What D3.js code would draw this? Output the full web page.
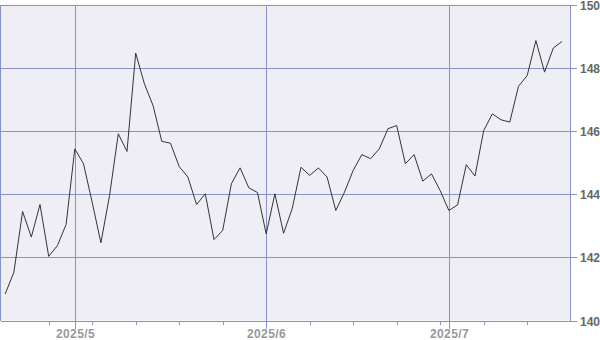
<!DOCTYPE html>
<html>
<head>
<meta charset="utf-8">
<script src="https://cdn.jsdelivr.net/npm/d3@7"></script>
<style>
  body { margin: 0; background: #fff; }
  svg text { font-family: "Liberation Sans", Arial, sans-serif; font-weight: bold; font-size: 12px; }
</style>
</head>
<body>
<div id="chart"></div>
<script>
// weekday closes, 2025-04-21 .. 2025-07-18
const startDate = "2025-04-21";
const endDate = "2025-07-18";
const values = [
  140.84, 141.53, 143.45, 142.64, 143.67, 142.03, 142.37, 143.04, 145.43, 144.96,
  143.74, 142.46, 143.96, 145.91, 145.35, 148.46, 147.49, 146.80, 145.67, 145.61,
  144.87, 144.54, 143.67, 144.01, 142.56, 142.85, 144.33, 144.83, 144.20, 144.05,
  142.74, 144.01, 142.76, 143.55, 144.85, 144.59, 144.83, 144.54, 143.48, 144.06,
  144.75, 145.25, 145.12, 145.43, 146.07, 146.17, 144.96, 145.25, 144.41, 144.64,
  144.11, 143.48, 143.66, 144.93, 144.57, 146.01, 146.54, 146.35, 146.28, 147.41,
  147.75, 148.86, 147.86, 148.62, 148.83
];
const yTicks = [140, 142, 144, 146, 148, 150];
const monthLabels = ["2025/5", "2025/6", "2025/7"];

const W = 600, H = 340;
const plot = {left: 0.5, right: 570.5, top: 4.5, bottom: 320.5};

const dates = d3.utcDays(new Date(startDate), d3.utcDay.offset(new Date(endDate), 1))
    .filter(d => d.getUTCDay() !== 0 && d.getUTCDay() !== 6);

const data = dates.map((d, i) => ({date: d, i: i, v: values[i]}));

const svg = d3.select("#chart")
    .append("svg")
    .attr("width", W)
    .attr("height", H);

const x = d3.scaleLinear()
    .domain([-0.54, 64.98])
    .range([plot.left, plot.right]);

const y = d3.scaleLinear()
    .domain([140, 150])
    .range([plot.bottom, plot.top]);

const gridColor = "#8a93c8";

svg.append("rect")
    .attr("x", plot.left)
    .attr("y", plot.top)
    .attr("width", plot.right - plot.left)
    .attr("height", plot.bottom - plot.top)
    .attr("fill", "#efeef5");

// first trading day of each month -> major ticks, mondays -> minor ticks
const monthStarts = data.filter((d, k) => k > 0 && d.date.getUTCMonth() !== data[k - 1].date.getUTCMonth());
const mondays = data.filter(d => d.i > 0 && d.date.getUTCDay() === 1 && !monthStarts.includes(d));

// horizontal grid + right axis ticks
svg.append("g")
    .selectAll("line")
    .data(yTicks)
    .join("line")
    .attr("x1", plot.left)
    .attr("x2", plot.right + 6)
    .attr("y1", d => Math.round(y(d)) + 0.5)
    .attr("y2", d => Math.round(y(d)) + 0.5)
    .attr("stroke", gridColor)
    .attr("shape-rendering", "crispEdges");

svg.append("g")
    .selectAll("text")
    .data(yTicks)
    .join("text")
    .attr("x", 580)
    .attr("y", d => Math.round(y(d)) + 0.5)
    .attr("dy", "0.36em")
    .attr("fill", "#666")
    .text(d => d);

// vertical month grid lines
svg.append("g")
    .selectAll("line")
    .data(monthStarts)
    .join("line")
    .attr("x1", d => Math.round(x(d.i)) + 0.5)
    .attr("x2", d => Math.round(x(d.i)) + 0.5)
    .attr("y1", plot.top)
    .attr("y2", plot.bottom + 8)
    .attr("stroke", gridColor)
    .attr("shape-rendering", "crispEdges");

svg.append("g")
    .selectAll("line")
    .data(mondays)
    .join("line")
    .attr("x1", d => Math.round(x(d.i)) + 0.5)
    .attr("x2", d => Math.round(x(d.i)) + 0.5)
    .attr("y1", plot.bottom)
    .attr("y2", plot.bottom + 4)
    .attr("stroke", gridColor)
    .attr("shape-rendering", "crispEdges");

svg.append("g")
    .selectAll("text")
    .data(monthStarts)
    .join("text")
    .attr("x", d => Math.round(x(d.i)) + 0.5)
    .attr("y", 338)
    .attr("text-anchor", "middle")
    .attr("fill", "#999")
    .attr("letter-spacing", "0.4px")
    .text((d, k) => monthLabels[k]);

// left and right borders
svg.append("path")
    .attr("d", `M${plot.left},${plot.top}V${plot.bottom}M${plot.right},${plot.top}V${plot.bottom}`)
    .attr("stroke", gridColor)
    .attr("fill", "none")
    .attr("shape-rendering", "crispEdges");

const line = d3.line()
    .x(d => x(d.i))
    .y(d => y(d.v));

svg.append("path")
    .datum(data)
    .attr("d", line)
    .attr("fill", "none")
    .attr("stroke", "#333")
    .attr("stroke-width", 1);
</script>
</body>
</html>
